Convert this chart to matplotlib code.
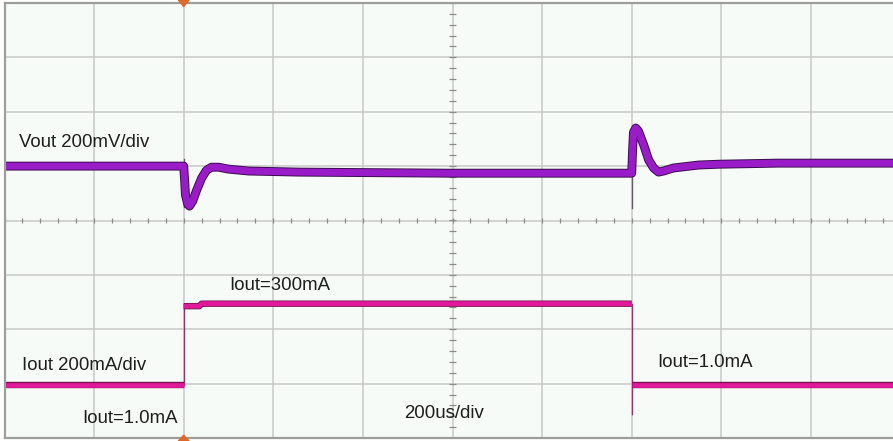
"""
Load transient scope capture: Vout (200mV/div) and Iout (200mA/div), 200us/div
"""
import numpy as np
import matplotlib.pyplot as plt
import matplotlib.patheffects as pe

plt.rcParams['font.family'] = ['Liberation Sans', 'DejaVu Sans']

# scope settings
US_PER_DIV = 200
MV_PER_DIV = 200
MA_PER_DIV = 200
VOUT_OFFSET_DIV = 1.00
IOUT_OFFSET_DIV = -3.03

# Vout deviation (mV) vs time (us)
vout_t = [0, 400, 402, 404, 409, 413, 420, 429, 440, 451, 462, 478, 500, 545,
          657, 992, 1326, 1400, 1402, 1404, 1409, 1415, 1427, 1438, 1449,
          1460, 1471, 1493, 1549, 1594, 1728, 2000]
vout_mv = [0, 0, -51, -107, -140, -147, -129, -88, -44, -15, -4, -4, -11, -18,
           -22, -26, -26, -26, 59, 125, 140, 129, 77, 22, -7,
           -22, -18, -7, 4, 7, 11, 11]

# Iout levels (mA)
iout_low_t = [0, 400]
iout_low_ma = [1.0, 1.0]
iout_high_t = [400, 435, 440, 1400]
iout_high_ma = [291, 291, 300, 300]
iout_end_t = [1400, 2000]
iout_end_ma = [1.0, 1.0]

# thin edges drawn by the scope at the switching instants
vout_edges = [(400, 25, -150), (1400, 140, -155)]      # t, top mV, bottom mV
iout_edges = [(400, 1.0, 300), (1400, 300, -105)]      # t, from mA, to mA

labels = [
    (33, 1.36, 'Vout 200mV/div'),
    (502, -1.28, 'Iout=300mA'),
    (38, -2.75, 'Iout 200mA/div'),
    (174, -3.72, 'Iout=1.0mA'),
    (1458, -2.69, 'Iout=1.0mA'),
    (893, -3.63, '200us/div'),
]

VOUT_COLOR = '#9a1cc8'
VOUT_EDGE = '#3a0c4e'
IOUT_COLOR = '#e0189a'
IOUT_EDGE = '#7a1052'
GRID = '#c6c9c6'


def vdiv(mv):
    return VOUT_OFFSET_DIV + np.asarray(mv) / MV_PER_DIV


def idiv(ma):
    return IOUT_OFFSET_DIV + np.asarray(ma) / MA_PER_DIV


fig = plt.figure(figsize=(8.93, 4.41), dpi=100)
ax = fig.add_axes([4.5 / 893, 3 / 441, 896 / 893, 435 / 441])
ax.set_facecolor('#f7fbf7')

x_max = 10 * US_PER_DIV
ax.set_xlim(0, x_max)
ax.set_ylim(-4, 4)

# graticule
ax.set_xticks(np.arange(0, x_max + 1, US_PER_DIV))
ax.set_yticks(np.arange(-4, 5, 1))
ax.grid(True, color=GRID, linewidth=1.1)
ax.tick_params(length=0, labelbottom=False, labelleft=False)
for side in ['left', 'top', 'bottom', 'right']:
    ax.spines[side].set_color('#9c9e9c')
    ax.spines[side].set_linewidth(1.6)

# minor ticks on the centre axes
hx = np.arange(0, x_max + 1, US_PER_DIV / 5)
ax.vlines(hx, -0.045, 0.045, color='#8a8c8a', linewidth=0.9)
vy = np.arange(-4, 4.01, 0.2)
ax.hlines(vy, x_max / 2 - 7, x_max / 2 + 7, color='#8a8c8a', linewidth=0.9)

band_v = [pe.Stroke(linewidth=6.4, foreground=VOUT_EDGE), pe.Normal()]
band_i = [pe.Stroke(linewidth=4.6, foreground=IOUT_EDGE), pe.Normal()]

# edges
for t, top, bot in vout_edges:
    ax.plot([t, t], vdiv([top, bot]), color='#6a5a70', linewidth=1.0)
for t, a, b in iout_edges:
    ax.plot([t, t], idiv([a, b]), color='#8a3a6a', linewidth=1.0)

ax.plot(vout_t, vdiv(vout_mv), color=VOUT_COLOR, linewidth=5.0,
        solid_joinstyle='round', solid_capstyle='butt', path_effects=band_v)
for t, ma in [(iout_low_t, iout_low_ma), (iout_high_t, iout_high_ma),
              (iout_end_t, iout_end_ma)]:
    ax.plot(t, idiv(ma), color=IOUT_COLOR, linewidth=3.4,
            solid_capstyle='butt', path_effects=band_i)

for x, y, s in labels:
    ax.text(x, y, s, fontsize=13.4, color='#1e1e1e', ha='left', va='baseline')

# trigger markers
trig_x = (400 / x_max) * (896 / 893) + 4.5 / 893
fig.patches.append(plt.Polygon([[trig_x - 0.006, 1.0], [trig_x + 0.006, 1.0],
                                [trig_x, 0.985]], closed=True,
                               transform=fig.transFigure, color='#e0682a'))
fig.patches.append(plt.Polygon([[trig_x - 0.006, 0.0], [trig_x + 0.006, 0.0],
                                [trig_x, 0.013]], closed=True,
                               transform=fig.transFigure, color='#e0682a'))

plt.savefig('out.png', dpi=100, facecolor='white')
plt.close()
